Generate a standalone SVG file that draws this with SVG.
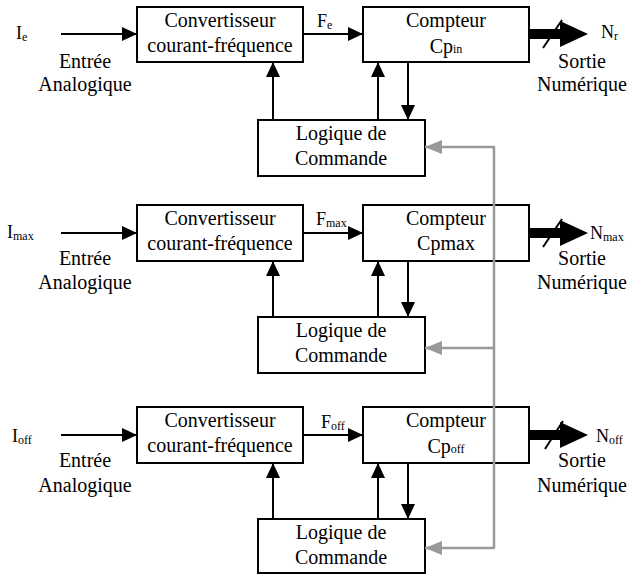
<svg xmlns="http://www.w3.org/2000/svg" width="632" height="575" viewBox="0 0 632 575" font-family="Liberation Serif, Times New Roman, Times, serif">
  <style>
    .box { fill: #ffffff; stroke: #000000; stroke-width: 2; }
    .t { font-size: 20px; fill: #000000; text-anchor: middle; }
    .lbl { font-size: 18px; fill: #000000; }
    .sub { font-size: 12px; }
    .wire { stroke: #000000; stroke-width: 2; fill: none; marker-end: url(#ah); }
    .bus { stroke: #000000; stroke-width: 10; fill: none; }
    .slash { stroke: #000000; stroke-width: 2; }
    .ctl { stroke: #999999; stroke-width: 2.5; fill: none; }
    .ctlarrow { stroke: #999999; stroke-width: 2.5; fill: none; marker-end: url(#gah); }
  </style>
  <defs>
    <marker id="ah" viewBox="0 0 15 14" refX="15" refY="7" markerWidth="15" markerHeight="14" markerUnits="userSpaceOnUse" orient="auto">
      <path d="M0,0 L15,7 L0,14 z" fill="#000000"/>
    </marker>
    <marker id="gah" viewBox="0 0 17 14" refX="17" refY="7" markerWidth="17" markerHeight="14" markerUnits="userSpaceOnUse" orient="auto">
      <path d="M0,0 L17,7 L0,14 z" fill="#999999"/>
    </marker>
  </defs>

  <!-- ===== Channel 1 : Ie ===== -->
  <g id="conv1">
    <rect class="box" x="137" y="7" width="166" height="55"/>
    <text class="t" x="220" y="27">Convertisseur</text>
    <text class="t" x="220" y="52">courant-fréquence</text>
  </g>
  <g id="cpt1">
    <rect class="box" x="363" y="7" width="166" height="55"/>
    <text class="t" x="446" y="27">Compteur</text>
    <text class="t" x="446" y="53">Cp<tspan class="sub">in</tspan></text>
  </g>
  <g id="log1">
    <rect class="box" x="258" y="120" width="167" height="56"/>
    <text class="t" x="341" y="140">Logique de</text>
    <text class="t" x="341" y="165">Commande</text>
  </g>
  <g id="in1">
    <text class="lbl" x="16" y="39">I<tspan class="sub" dy="2">e</tspan></text>
    <text class="t" x="85" y="68">Entrée</text>
    <text class="t" x="85" y="91">Analogique</text>
  </g>
  <g id="out1">
    <text class="lbl" x="601" y="38">N<tspan class="sub" dy="2">r</tspan></text>
    <text class="t" x="582" y="68">Sortie</text>
    <text class="t" x="582" y="91">Numérique</text>
  </g>
  <text class="lbl" x="317" y="27">F<tspan class="sub" dy="2">e</tspan></text>

  <!-- ===== Channel 2 : Imax ===== -->
  <g id="conv2">
    <rect class="box" x="137" y="205" width="166" height="56"/>
    <text class="t" x="220" y="225">Convertisseur</text>
    <text class="t" x="220" y="250">courant-fréquence</text>
  </g>
  <g id="cpt2">
    <rect class="box" x="363" y="205" width="166" height="56"/>
    <text class="t" x="446" y="225">Compteur</text>
    <text class="t" x="446" y="250">Cpmax</text>
  </g>
  <g id="log2">
    <rect class="box" x="258" y="317" width="167" height="56"/>
    <text class="t" x="341" y="337">Logique de</text>
    <text class="t" x="341" y="362">Commande</text>
  </g>
  <g id="in2">
    <text class="lbl" x="7" y="238">I<tspan class="sub" dy="2">max</tspan></text>
    <text class="t" x="85" y="265">Entrée</text>
    <text class="t" x="85" y="289">Analogique</text>
  </g>
  <g id="out2">
    <text class="lbl" x="590" y="239">N<tspan class="sub" dy="2">max</tspan></text>
    <text class="t" x="582" y="265">Sortie</text>
    <text class="t" x="582" y="289">Numérique</text>
  </g>
  <text class="lbl" x="316" y="225">F<tspan class="sub" dy="2">max</tspan></text>

  <!-- ===== Channel 3 : Ioff ===== -->
  <g id="conv3">
    <rect class="box" x="137" y="407" width="166" height="56"/>
    <text class="t" x="220" y="427">Convertisseur</text>
    <text class="t" x="220" y="452">courant-fréquence</text>
  </g>
  <g id="cpt3">
    <rect class="box" x="363" y="407" width="166" height="56"/>
    <text class="t" x="446" y="427">Compteur</text>
    <text class="t" x="446" y="453">Cp<tspan class="sub">off</tspan></text>
  </g>
  <g id="log3">
    <rect class="box" x="258" y="519" width="167" height="54"/>
    <text class="t" x="341" y="539">Logique de</text>
    <text class="t" x="341" y="564">Commande</text>
  </g>
  <g id="in3">
    <text class="lbl" x="12" y="442">I<tspan class="sub" dy="2">off</tspan></text>
    <text class="t" x="85" y="467">Entrée</text>
    <text class="t" x="85" y="492">Analogique</text>
  </g>
  <g id="out3">
    <text class="lbl" x="596" y="442">N<tspan class="sub" dy="2">off</tspan></text>
    <text class="t" x="582" y="467">Sortie</text>
    <text class="t" x="582" y="492">Numérique</text>
  </g>
  <text class="lbl" x="321" y="428">F<tspan class="sub" dy="2">off</tspan></text>

  <!-- ===== Connectors ===== -->
  <g id="connectors">
    <!-- channel 1 -->
    <line class="wire" x1="61" y1="34" x2="137" y2="34"/>
    <line class="wire" x1="303" y1="34" x2="363" y2="34"/>
    <line class="wire" x1="273" y1="120" x2="273" y2="62"/>
    <line class="wire" x1="378" y1="120" x2="378" y2="62"/>
    <line class="wire" x1="408" y1="62" x2="408" y2="120"/>
    <line class="bus" x1="529" y1="34" x2="562" y2="34"/>
    <polygon points="560,21 588,34 560,47" fill="#000000"/>
    <line class="slash" x1="543" y1="48" x2="562" y2="20"/>

    <!-- channel 2 -->
    <line class="wire" x1="61" y1="233" x2="137" y2="233"/>
    <line class="wire" x1="303" y1="233" x2="363" y2="233"/>
    <line class="wire" x1="273" y1="317" x2="273" y2="261"/>
    <line class="wire" x1="378" y1="317" x2="378" y2="261"/>
    <line class="wire" x1="408" y1="261" x2="408" y2="317"/>
    <line class="bus" x1="529" y1="233" x2="562" y2="233"/>
    <polygon points="560,220 588,233 560,246" fill="#000000"/>
    <line class="slash" x1="543" y1="247" x2="562" y2="219"/>

    <!-- channel 3 -->
    <line class="wire" x1="61" y1="435" x2="137" y2="435"/>
    <line class="wire" x1="303" y1="435" x2="363" y2="435"/>
    <line class="wire" x1="273" y1="519" x2="273" y2="463"/>
    <line class="wire" x1="378" y1="519" x2="378" y2="463"/>
    <line class="wire" x1="408" y1="463" x2="408" y2="519"/>
    <line class="bus" x1="529" y1="435" x2="562" y2="435"/>
    <polygon points="560,422 588,435 560,448" fill="#000000"/>
    <line class="slash" x1="545" y1="449" x2="563" y2="421"/>

    <!-- shared control bus (grey) -->
    <line class="ctl" x1="494" y1="147" x2="494" y2="548"/>
    <line class="ctlarrow" x1="495" y1="147" x2="425" y2="147"/>
    <line class="ctlarrow" x1="495" y1="348" x2="425" y2="348"/>
    <line class="ctlarrow" x1="495" y1="548" x2="425" y2="548"/>
  </g>
</svg>
